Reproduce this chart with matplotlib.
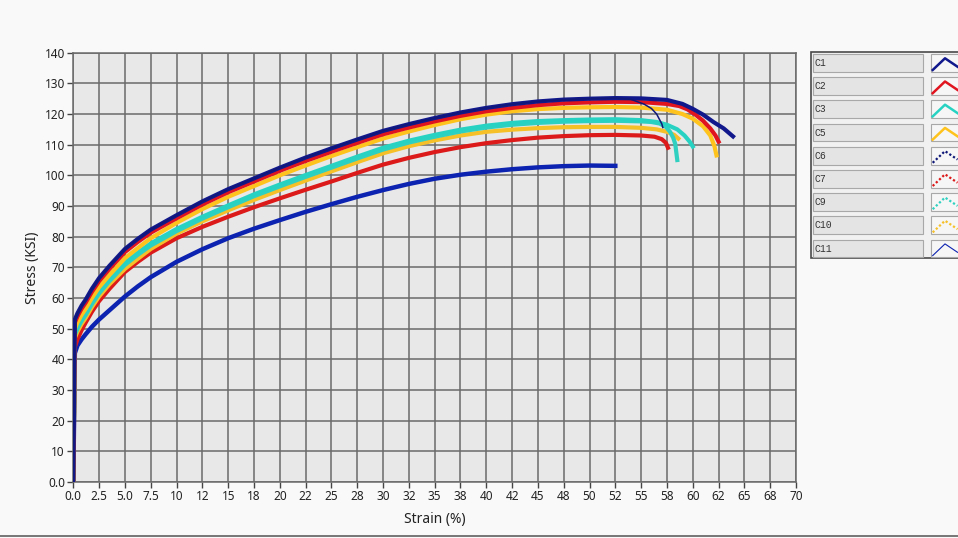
import numpy as np
import matplotlib
matplotlib.use("Agg")
import matplotlib.pyplot as plt
from matplotlib.patches import Rectangle
from matplotlib.lines import Line2D

# strain points (%) shared by the body of every curve
strain_grid = [0, 0.15, 0.4, 0.8, 1.2, 1.8, 2.5, 3.5, 5, 6.25, 7.5, 10, 12.5, 15, 17.5,
               20, 22.5, 25, 27.5, 30, 32.5, 35, 37.5, 40, 42.5, 45, 47.5, 50, 52.5]

c1_body = [0, 53, 55, 57.5, 59.5, 63, 66.5, 70.5, 76, 79.3, 82.3, 87, 91.5, 95.5, 99, 102.5,
           105.8, 108.8, 111.7, 114.5, 116.7, 118.7, 120.5, 122, 123.2, 124.1, 124.7, 125, 125.2]
c1_tail_x = [55, 57.5, 59, 60, 61, 62, 63, 63.9]
c1_tail_y = [125.1, 124.6, 123.3, 121.7, 119.8, 117.4, 115.3, 112.7]

c2_body = [0, 52, 54, 56.5, 58.5, 62, 65.5, 69.5, 75, 78.3, 81.3, 86, 90.5, 94.5, 98, 101.5,
           104.7, 107.7, 110.6, 113.4, 115.6, 117.6, 119.4, 120.9, 122, 122.9, 123.5, 123.8, 124]
c2_tail_x = [55, 57.5, 58.7, 59.5, 60.3, 61, 61.7, 62.2, 62.5]
c2_tail_y = [123.9, 123.3, 122.6, 121.5, 119.7, 117.8, 115.3, 113, 111]

c3_body = [0, 49, 51, 53.5, 55.5, 59, 62.5, 66.5, 71.5, 74.8, 77.8, 82.5, 86.5, 90.2, 93.8, 97,
           100.1, 103.1, 106.1, 109, 111.3, 113.2, 114.9, 116.2, 117.1, 117.7, 118, 118.2, 118.3]
c3_tail_x = [55, 56.5, 57.5, 58.5, 59.2, 59.7, 60]
c3_tail_y = [118, 117.4, 116.5, 115, 113, 111, 109.4]

c5_body = [0, 50, 52, 54.5, 56.5, 60, 63.5, 67.5, 73, 76.3, 79.5, 84.5, 89, 93, 96.5, 100,
           103.2, 106.3, 109.2, 112, 114.3, 116.4, 118.3, 119.8, 120.9, 121.6, 122, 122.2, 122.3]
c5_tail_x = [55, 57.5, 59, 60, 61, 61.7, 62.1, 62.3]
c5_tail_y = [122.1, 121.4, 120, 118.5, 116, 113, 109.5, 106.5]

c6_tail_x = [54, 55.3, 56, 56.5, 57, 57.1]
c6_tail_y = [124.8, 123.2, 121.8, 120, 116.8, 115.6]

c7_body = [0, 44, 46.5, 49.5, 52, 55.5, 59, 63, 68.5, 71.8, 74.8, 79.5, 83.2, 86.5, 89.6, 92.5,
           95.3, 98, 100.8, 103.5, 105.7, 107.6, 109.2, 110.5, 111.5, 112.3, 112.8, 113.1, 113.2]
c7_tail_x = [55, 56.3, 57, 57.4, 57.6]
c7_tail_y = [113, 112.6, 111.8, 110.6, 109]

c9_body = [0, 48, 50, 52.5, 54.5, 58, 61.5, 65.5, 70.8, 74.1, 77.1, 81.8, 85.9, 89.6, 93.2, 96.4,
           99.5, 102.5, 105.5, 108.4, 110.7, 112.6, 114.3, 115.6, 116.5, 117.1, 117.5, 117.7, 117.8]
c9_tail_x = [55, 56, 56.8, 57.4, 57.8, 58.1, 58.3, 58.5]
c9_tail_y = [117.6, 117.4, 116.9, 115.8, 114.2, 112.3, 110.3, 105]

c10_body = [0, 47, 49, 51.5, 53.5, 57, 60.5, 64.5, 69.5, 72.8, 76, 81, 85, 88.6, 92, 95.2,
            98.3, 101.3, 104.3, 107.2, 109.5, 111.4, 113, 114.2, 114.9, 115.4, 115.7, 115.8, 115.8]
c10_tail_x = [55, 56.5, 57.5, 58.2, 58.6]
c10_tail_y = [115.5, 115, 114.2, 113.2, 112]

c11_body = [0, 42, 44.5, 46.5, 48.2, 50.6, 53, 56, 60.5, 63.8, 66.8, 71.8, 75.9, 79.5, 82.6,
            85.4, 88.1, 90.6, 93, 95.2, 97.2, 98.9, 100.2, 101.2, 102, 102.6, 103, 103.2, 103.1]

names = ["C1", "C2", "C3", "C5", "C6", "C7", "C9", "C10", "C11"]
colors = ["#10188c", "#e0141e", "#28d2c3", "#ffc31e", "#101878",
          "#dc1a1a", "#30d0c0", "#f5c028", "#0c22b0"]

curves = {
    "C1": (strain_grid + c1_tail_x, c1_body + c1_tail_y, 3.0, 8),
    "C2": (strain_grid + c2_tail_x, c2_body + c2_tail_y, 3.0, 7),
    "C3": (strain_grid + c3_tail_x, c3_body + c3_tail_y, 3.0, 5),
    "C5": (strain_grid + c5_tail_x, c5_body + c5_tail_y, 3.0, 6),
    "C6": (strain_grid + c6_tail_x, c1_body + c6_tail_y, 1.1, 9),
    "C7": (strain_grid + c7_tail_x, c7_body + c7_tail_y, 3.0, 2),
    "C9": (strain_grid + c9_tail_x, c9_body + c9_tail_y, 3.0, 4),
    "C10": (strain_grid + c10_tail_x, c10_body + c10_tail_y, 3.0, 3),
    "C11": (strain_grid, c11_body, 3.2, 1),
}

grid_col = "#6a6a6a"

fig = plt.figure(figsize=(9.58, 5.38), dpi=100)
fig.patch.set_facecolor("#f9f9f9")
ax = fig.add_axes([73.3 / 958, 1 - 482 / 538, (796 - 73.3) / 958, (482 - 52.7) / 538])
ax.set_facecolor("#e8e8e8")

for name, col in zip(names, colors):
    x, y, lw, z = curves[name]
    ax.plot(x, y, color=col, lw=lw, zorder=z, solid_joinstyle="round")

xticks = np.arange(0, 70.01, 2.5)
ax.set_xticks(xticks)
ax.set_xticklabels([f"{v:.1f}" if v < 10 else str(round(v)) for v in xticks])
yticks = np.arange(0, 141, 10)
ax.set_yticks(yticks)
ax.set_yticklabels(["0.0"] + [str(v) for v in yticks[1:]])
ax.set_xlim(0, 70)
ax.set_ylim(0, 140)
ax.grid(True, color=grid_col, lw=1.1)
ax.set_axisbelow(True)
for s in ax.spines.values():
    s.set_color(grid_col)
    s.set_linewidth(1.1)
ax.tick_params(direction="out", length=4, width=1, color="#444444",
               labelsize=8.5, labelcolor="#222222", pad=2)
for lab in ax.get_xticklabels() + ax.get_yticklabels():
    lab.set_family("Noto Sans")
ax.set_xlabel("Strain (%)", fontsize=10, family="Noto Sans", color="#222222", labelpad=6)
ax.set_ylabel("Stress (KSI)", fontsize=10, family="Noto Sans", color="#222222", labelpad=3)

# legend panel drawn in pixel coordinates
ov = fig.add_axes([0, 0, 1, 1], facecolor="none")
ov.set_xlim(0, 958)
ov.set_ylim(538, 0)
ov.axis("off")
ov.add_patch(Rectangle((810.7, 51.7), 160, 206.3, facecolor="#f1f1f1",
                       edgecolor="#4a4a4a", lw=1.2))
row_h = 23.2
for i, (name, col) in enumerate(zip(names, colors)):
    top = 54 + i * row_h
    ov.add_patch(Rectangle((812.7, top), 110, 17.7, facecolor="#e4e4e4",
                           edgecolor="#a8a8a8", lw=0.8))
    ov.text(815, top + 9, name, fontsize=7, family="Liberation Mono",
            color="#333333", va="center", ha="left")
    ov.add_patch(Rectangle((931, top), 40, 17.7, facecolor="#f6f6f6",
                           edgecolor="#a8a8a8", lw=0.8))
    style = "-"
    lw = 1.8
    if name in ("C6", "C7", "C9", "C10"):
        style = (0, (1, 1))
        lw = 1.6
    if name == "C11":
        lw = 0.8
    ov.plot([932.7, 945, 957.5], [top + 16, top + 4.3, top + 12.7],
            color=col, lw=lw, ls=style)

# window border along the bottom edge
fig.add_artist(Line2D([0, 1], [1 - 536 / 538, 1 - 536 / 538], color="#606060", lw=1.2))

fig.savefig("out.png", dpi=100, facecolor=fig.get_facecolor())
